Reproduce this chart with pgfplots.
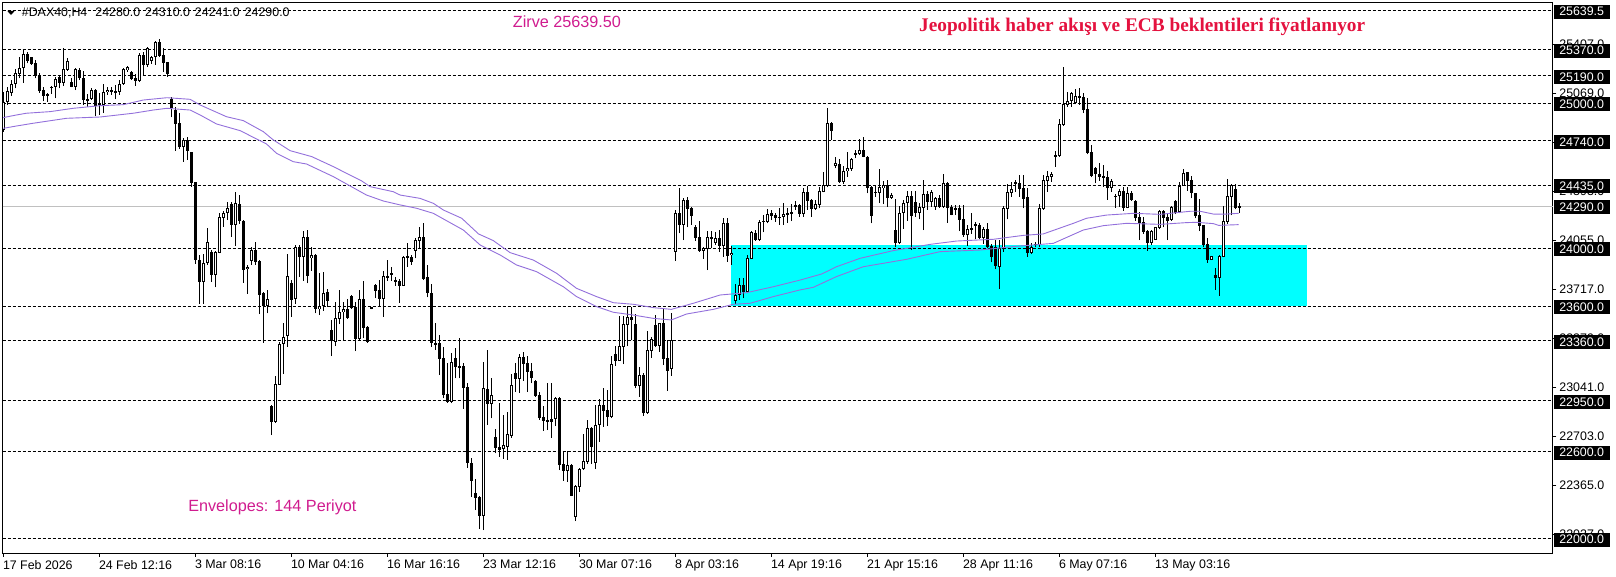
\documentclass[border=0pt]{standalone}
\usepackage{fontspec}
\setmainfont{Liberation Sans}
\newfontfamily\titleserif{Liberation Serif}
\usepackage{pgfplots}
\usepackage{pgfplotstable}
\pgfplotsset{compat=1.18}
\definecolor{envp}{HTML}{9370DB}
\definecolor{pinktxt}{HTML}{D01C8F}
\definecolor{redtxt}{HTML}{E4123F}
\definecolor{boxcyan}{HTML}{00FFFF}
\pgfplotstableread{
o h l c
24814 25079 24803 25010
25010 25109 24987 25086
25072 25159 25049 25131
25131 25233 25102 25205
25201 25320 25171 25240
25240 25371 25141 25339
25339 25355 25274 25293
25316 25320 25263 25270
25279 25297 25171 25187
25192 25205 25072 25086
25090 25109 25012 25049
25063 25072 25008 25051
25113 25118 25063 25107
25109 25182 25033 25169
25178 25194 25102 25141
25141 25378 25118 25233
25228 25309 25224 25290
25143 25171 25109 25113
25113 25240 25090 25233
25228 25240 25159 25171
25171 25224 24987 25021
25028 25061 24976 25021
25028 25102 25021 25090
25090 25095 24913 24982
24985 25068 24918 24998
24987 25131 24934 25074
25074 25109 25056 25090
25090 25109 25056 25077
25084 25125 25026 25074
25074 25159 25056 25131
25129 25240 25125 25233
25228 25256 25217 25247
25215 25219 25159 25169
25171 25201 25118 25155
25155 25343 25148 25332
25332 25355 25187 25263
25263 25385 25247 25378
25290 25325 25270 25320
25320 25431 25263 25424
25424 25440 25316 25327
25332 25378 25217 25279
25281 25286 25182 25201
25026 25044 24902 24964
24952 24976 24672 24856
24861 24930 24684 24695
24695 24757 24596 24746
24746 24764 24608 24672
24663 24665 24424 24451
24456 24458 23891 23918
23918 23953 23615 23767
23767 23960 23615 23895
23895 24137 23884 24045
23976 23987 23767 23815
23815 23983 23730 23976
23969 24240 23964 24217
24206 24258 24148 24240
24245 24316 24194 24275
24304 24321 24079 24160
24160 24387 24015 24309
24304 24366 24167 24190
24187 24194 23762 23849
23854 23884 23684 23868
23914 24006 23884 23987
23987 24045 23884 23907
23914 23918 23546 23680
23689 23700 23349 23601
23601 23712 23551 23647
22912 22919 22712 22804
22804 23119 22797 23061
23059 23355 23057 23339
23339 23482 23132 23390
23397 23960 23321 23808
23758 23780 23528 23643
23647 24022 23615 24011
24006 24022 23804 23941
23941 24120 23776 24075
24075 24125 23758 23808
23930 24006 23845 23953
23953 23960 23551 23578
23578 23827 23539 23601
23601 23838 23569 23689
23700 23718 23597 23638
23436 23505 23256 23362
23355 23627 23325 23516
23512 23712 23477 23558
23558 23631 23367 23581
23578 23647 23512 23516
23670 23677 23581 23590
23597 23627 23291 23374
23374 23712 23367 23647
23647 23774 23378 23452
23459 23463 23349 23351
23586 23594 23578 23590
23746 23753 23656 23707
23712 23780 23597 23652
23652 23845 23528 23808
23799 23918 23776 23808
23827 23872 23776 23820
23780 23804 23741 23769
23774 23785 23624 23741
23741 23946 23739 23937
23946 24038 23872 23937
23941 23953 23884 23907
23983 24068 23930 24056
24052 24148 23999 24075
24075 24176 23780 23790
23799 23884 23661 23693
23689 23751 23321 23349
23344 23482 23298 23335
23344 23401 23125 23238
23240 23321 22965 22988
22995 23211 22935 22942
22937 23279 22930 23213
23240 23309 23102 23183
23185 23378 23102 23178
23185 23206 22893 23036
23040 23068 22487 22517
22517 22551 22287 22397
22310 22406 22195 22280
22282 22291 22064 22153
22155 23217 22057 23034
23029 23298 22781 22923
22923 23102 22827 22986
22696 22751 22585 22625
22627 22935 22562 22608
22618 22850 22549 22641
22632 22873 22540 22717
22707 23132 22693 23057
23137 23206 23011 23096
23098 23270 23004 23247
23247 23282 23086 23201
23206 23259 23011 23144
23151 23206 23068 23105
23084 23091 22976 22981
22988 23011 22816 22829
22836 22912 22742 22811
22808 23073 22746 22816
22820 23068 22693 22804
22822 22972 22774 22965
22965 22972 22470 22508
22512 22601 22397 22464
22466 22601 22390 22503
22505 22512 22291 22294
22149 22367 22119 22360
22356 22482 22319 22477
22475 22719 22470 22533
22528 22816 22512 22758
22758 22765 22512 22632
22517 22919 22477 22781
22781 22958 22666 22917
22917 23034 22769 22880
22884 23022 22774 22838
22838 23256 22827 23199
23270 23325 23188 23224
23224 23535 23224 23325
23321 23532 23201 23477
23473 23601 23325 23523
23523 23597 23367 23505
23477 23546 23034 23050
23050 23183 22976 23123
23123 23137 22845 22866
22866 23427 22857 23296
23293 23390 23245 23371
23470 23537 23321 23328
23328 23486 23286 23482
23482 23585 23194 23236
23240 23367 23018 23155
23165 23551 23121 23365
23976 24263 23914 24240
24240 24413 24102 24162
24162 24343 24056 24332
24332 24350 24143 24273
24277 24281 24160 24224
24143 24160 24052 24072
24075 24187 23974 23983
23983 24011 23928 23999
23994 24120 23849 24075
24068 24120 23999 24075
24033 24114 24022 24068
24068 24125 23976 24015
24015 24206 23941 24171
24171 24206 23907 23948
23951 24015 23884 23969
23638 23751 23615 23677
23677 23792 23643 23744
23746 23792 23654 23698
23700 23953 23689 23930
23928 24118 23923 24109
24102 24125 24052 24056
24056 24194 24052 24178
24190 24228 24109 24178
24183 24268 24171 24233
24240 24263 24194 24224
24228 24245 24183 24210
24217 24275 24160 24212
24217 24309 24160 24235
24233 24275 24176 24242
24249 24302 24187 24238
24298 24325 24263 24286
24298 24304 24217 24235
24235 24413 24217 24385
24387 24429 24263 24327
24332 24337 24217 24273
24268 24332 24263 24304
24300 24424 24275 24394
24389 24527 24385 24433
24429 24964 24419 24861
24861 24872 24746 24810
24569 24626 24550 24585
24580 24615 24451 24458
24456 24566 24442 24532
24530 24661 24493 24550
24548 24619 24534 24612
24654 24677 24619 24647
24649 24752 24642 24677
24677 24764 24626 24631
24631 24635 24378 24417
24424 24429 24171 24224
24387 24429 24355 24382
24382 24548 24314 24422
24417 24465 24304 24433
24433 24470 24286 24346
24348 24378 24341 24366
24125 24339 24011 24038
24038 24291 24029 24240
24240 24332 24134 24309
24309 24396 24190 24360
24360 24396 23987 24224
24318 24396 24217 24245
24245 24309 24199 24281
24279 24470 24125 24371
24371 24396 24263 24321
24318 24401 24286 24387
24286 24355 24263 24343
24343 24366 24279 24284
24284 24511 24279 24447
24447 24458 24176 24279
24286 24298 24226 24231
24277 24298 24228 24263
24277 24295 24118 24194
24199 24298 24079 24093
24093 24160 24015 24132
24125 24240 24098 24137
24167 24183 24061 24157
24160 24176 24061 24070
24070 24148 24029 24132
24132 24171 23999 24011
24015 24026 23902 23941
24006 24056 23858 23877
23872 24056 23718 23999
23994 24291 23976 24275
24273 24442 24199 24385
24382 24458 24355 24405
24456 24470 24389 24449
24451 24504 24355 24405
24413 24504 24275 24341
24353 24413 23941 23969
23969 24033 23958 24011
24031 24045 24006 24022
24020 24302 24011 24275
24273 24504 24263 24468
24465 24534 24389 24495
24493 24527 24458 24509
24640 24670 24562 24635
24638 24888 24631 24854
24851 25247 24844 24991
24987 25079 24976 25017
25017 25074 24976 25068
25003 25095 24991 25049
25047 25102 24987 25037
25042 25072 24930 24955
24957 25033 24647 24658
24661 24711 24488 24500
24553 24562 24447 24511
24509 24585 24465 24491
24497 24571 24424 24488
24488 24534 24332 24417
24417 24475 24389 24463
24362 24371 24279 24355
24357 24405 24286 24392
24394 24424 24258 24277
24275 24424 24275 24378
24382 24394 24327 24334
24325 24332 24190 24210
24212 24252 24056 24171
24178 24217 24098 24111
24116 24125 23983 24038
24038 24125 24022 24116
24058 24148 24056 24143
24141 24263 24130 24256
24256 24263 24143 24210
24217 24233 24056 24190
24194 24291 24190 24286
24325 24332 24235 24245
24247 24458 24240 24429
24429 24543 24429 24516
24523 24527 24396 24465
24470 24497 24343 24382
24378 24382 24206 24224
24228 24337 24118 24153
24157 24162 24006 24020
24026 24068 23900 23918
23921 23946 23918 23946
23815 23863 23712 23794
23797 23953 23672 23943
23941 24291 23937 24185
24183 24477 24167 24357
24355 24442 24226 24438
24408 24442 24268 24275
24280 24310 24241 24290
}\candles
\pgfplotstableread{
x y
0 24900
3.3 24918
5.8 24930
11.7 24941
17.5 24964
24.2 24982
30 24989
35 25021
40.9 25037
46.7 25026
49.2 24987
55.8 24906
60 24879
65 24803
67.5 24746
71.7 24672
77.1 24631
82.5 24562
89.6 24463
91.7 24424
97.5 24389
99.2 24366
104.2 24343
107.5 24309
110 24263
114.6 24206
118.8 24098
122.5 24052
126.7 23969
132.5 23918
138.3 23827
143.3 23723
148.3 23666
152.5 23624
157.5 23613
162.5 23590
167 23578
172.5 23620
179.2 23677
185.8 23693
192.5 23734
199.2 23780
204.6 23822
208.3 23872
214.2 23930
222.5 23983
231.7 24026
238.3 24049
247.5 24061
255 24088
260 24098
267.5 24171
270.8 24206
275.8 24228
282.5 24240
289.2 24233
296.7 24254
299.2 24254
302.5 24235
305.8 24235
308.8 24240
}\envup
\pgfplotstableread{
x y
0 24826
3.3 24842
7.5 24861
15.8 24895
24.2 24904
32.5 24930
37.5 24952
40.9 24964
46.7 24952
49.2 24918
53.3 24856
59.2 24810
65.8 24718
68.3 24654
72.5 24596
75.8 24580
82.5 24493
90.8 24366
95 24325
99.2 24298
103.3 24275
107.5 24240
115 24125
119.2 24022
124.2 23953
128.3 23884
133.3 23838
140 23734
143.3 23666
148.3 23597
152.5 23558
157.5 23539
162.5 23516
167 23505
170.8 23546
177.5 23578
182.5 23613
186.7 23620
192.5 23666
199.2 23712
202.5 23730
208.3 23804
215 23872
225.8 23923
234.2 23976
244.2 23987
252.5 24011
262.5 24033
270 24125
275 24155
280.8 24171
289.2 24164
295.8 24176
298.3 24178
302.5 24169
303.8 24157
308.8 24162
}\envlow
\pgfplotsset{chartbase/.style={
  at={(2.5pt,23.7pt)}, anchor=south west, scale only axis,
  width=1550.2pt, height=550.8pt,
  xmin=-0.2, xmax=387.35, ymin=21896.6, ymax=25693.3}}
\newcommand{\pricebox}[1]{\node[fill=black,text=white,anchor=west,inner sep=0pt,minimum height=14pt,yshift=-1.3pt,font=\fontsize{12.4}{13}\selectfont]
  at (axis cs:387.675,#1) {\hspace{5pt}\makebox[51pt][l]{#1}};}
\begin{document}
\begin{tikzpicture}
\path[use as bounding box] (0,0) rectangle (1616pt,577pt);
\begin{axis}[chartbase,
  axis line style={line width=1pt,black},
  xtick={0,24,...,288},
  xticklabels={17 Feb 2026,24 Feb 12:16,3 Mar 08:16,10 Mar 04:16,16 Mar 16:16,23 Mar 12:16,30 Mar 07:16,8 Apr 03:16,14 Apr 19:16,21 Apr 15:16,28 Apr 11:16,6 May 07:16,13 May 03:16},
  ytick={22027,22365,22703,23041,23379,23717,24055,24393,24731,25069,25407},
  xtick pos=bottom, ytick pos=right, tick align=outside,
  major tick length=3.5pt,
  tick style={line width=1pt,black},
  xticklabel style={anchor=north west,inner sep=0pt,yshift=-3.2pt,xshift=-0.5pt,font=\fontsize{12.4}{13}\selectfont},
  yticklabel style={anchor=west,inner sep=0pt,xshift=3pt,font=\fontsize{12.4}{13}\selectfont,
    /pgf/number format/.cd,fixed,fixed zerofill,precision=1,1000 sep={},assume math mode=true},
  scaled y ticks=false,
]
\addplot[fill=boxcyan,draw=none] coordinates {(181.9,23600) (325.9,23600) (325.9,24021.7) (181.9,24021.7)} --cycle;
\addplot[color={rgb,255:red,192;green,192;blue,192},line width=1pt] coordinates {(-0.2,24290) (387.35,24290)};
\pgfplotsinvokeforeach{25639.5,25370,25190,25000,24740,24435,24000,23600,23360,22950,22600,22000}{
  \addplot[black,line width=1pt,dash pattern=on 3pt off 2pt] coordinates {(-0.2,#1) (387.35,#1)};
}
% wicks
\addplot[draw=none,mark=none,error bars/.cd,y dir=plus,y explicit,error mark=none,error bar style={line width=1pt,black}]
  table[x expr=\coordindex,y=l,y error plus expr={\thisrow{h}-\thisrow{l}}] {\candles};
% bodies
\addplot[draw=none,mark=none,error bars/.cd,y dir=both,y explicit,error mark=none,error bar style={line width=3.2pt,black}]
  table[x expr=\coordindex,y expr={(\thisrow{o}+\thisrow{c})/2},y error expr={max(abs(\thisrow{c}-\thisrow{o})/2,3.45)}] {\candles};
% hollow inside of rising bodies
\addplot[draw=none,mark=none,error bars/.cd,y dir=both,y explicit,error mark=none,error bar style={line width=1.2pt,white}]
  table[x expr=\coordindex,y expr={(\thisrow{o}+\thisrow{c})/2},y error expr={max((\thisrow{c}-\thisrow{o})/2-6.9,0)}] {\candles};
\addplot[envp,line width=0.9pt] table[x=x,y=y] {\envup};
\addplot[envp,line width=0.9pt] table[x=x,y=y] {\envlow};
\end{axis}
\begin{axis}[chartbase,hide axis,clip=false]
\addplot[draw=none] coordinates {(0,24000)};
\fill[black] (axis cs:1.0,25635) -- (axis cs:2.85,25635) -- (axis cs:1.925,25607) -- cycle;
\node[anchor=west,inner sep=0pt,font=\fontsize{12.4}{13}\selectfont] at (axis cs:4.6,25623) {\#DAX40,H4\hspace{8pt}24280.0\hspace{5pt}24310.0\hspace{5pt}24241.0\hspace{5pt}24290.0};
\node[anchor=west,inner sep=0pt,text=pinktxt,font=\fontsize{16.2}{18}\selectfont] at (axis cs:127.35,25561) {Zirve 25639.50};
\node[anchor=west,inner sep=0pt,text=pinktxt,font=\fontsize{16.2}{18}\selectfont] at (axis cs:46.2,22216) {Envelopes: 144 Periyot};
\node[anchor=west,inner sep=0pt,text=redtxt,font=\titleserif\bfseries\fontsize{19.3}{21}\selectfont] at (axis cs:228.9,25524) {Jeopolitik haber akışı ve ECB beklentileri fiyatlanıyor};
\pricebox{25639.5}
\pricebox{25370.0}
\pricebox{25190.0}
\pricebox{25000.0}
\pricebox{24740.0}
\pricebox{24435.0}
\pricebox{24290.0}
\pricebox{24000.0}
\pricebox{23600.0}
\pricebox{23360.0}
\pricebox{22950.0}
\pricebox{22600.0}
\pricebox{22000.0}
\end{axis}
\end{tikzpicture}
\end{document}
